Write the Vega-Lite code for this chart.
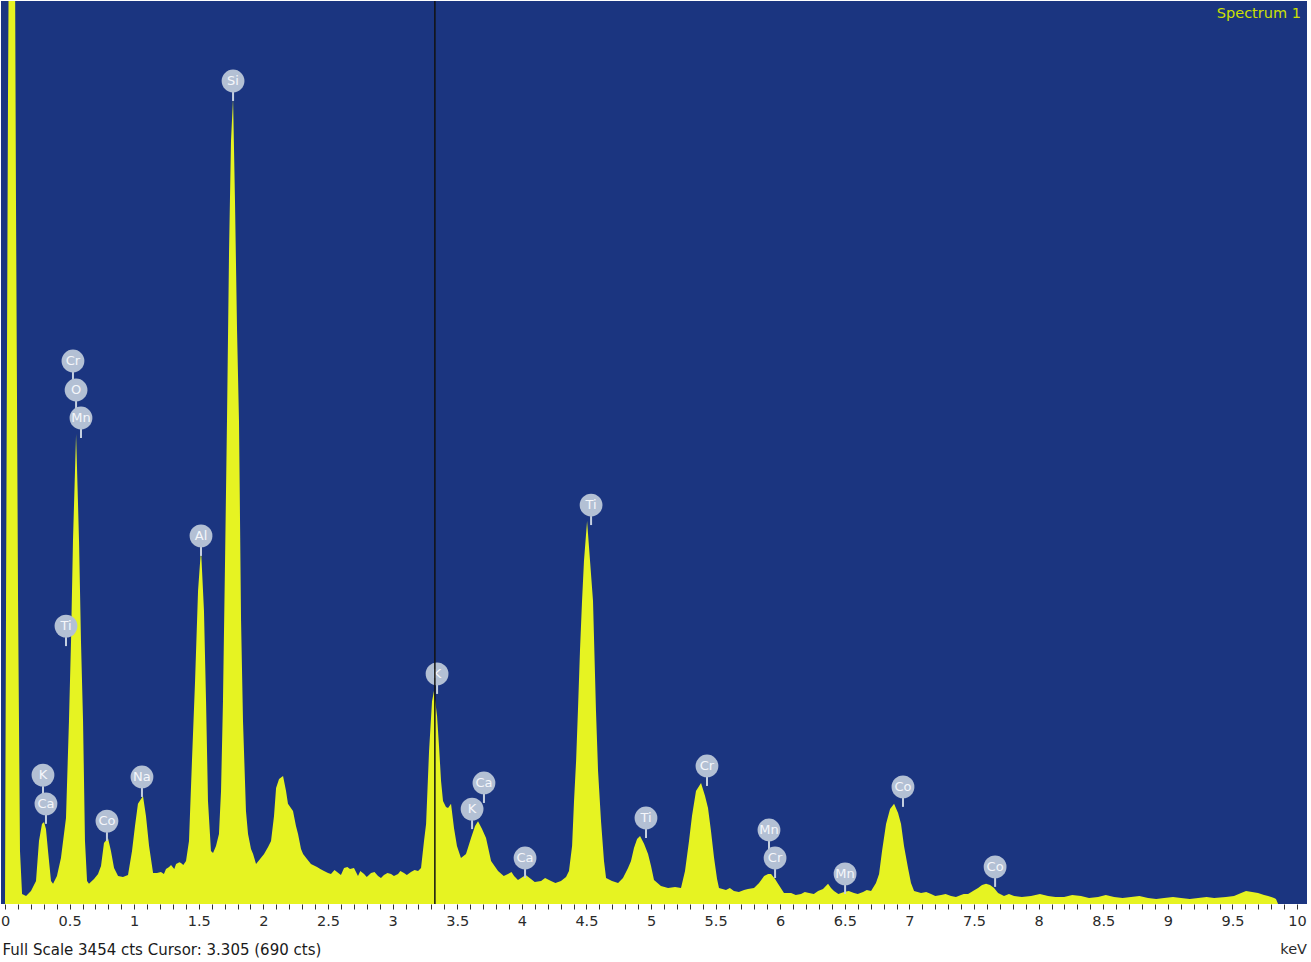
{
  "$schema": "https://vega.github.io/schema/vega-lite/v6.json",
  "width": 1306,
  "height": 903,
  "padding": {"left": 0, "top": 0, "right": 4, "bottom": 2},
  "background": "white",
  "config": {"view": {"fill": "#1b3580", "stroke": null}, "font": "DejaVu Sans"},
  "title": {"text": "keV", "orient": "bottom", "anchor": "end", "offset": -14, "fontSize": 14.5, "fontWeight": "normal", "color": "#2a2a2a", "font": "DejaVu Sans"},
  "datasets": {
    "spectrum": [
      {"e":0.000,"c":0},{"e":0.008,"c":1159},{"e":0.023,"c":3071},{"e":0.039,"c":4500},{"e":0.054,"c":6000},{"e":0.070,"c":4500},{"e":0.085,"c":2689},{"e":0.101,"c":1159},{"e":0.116,"c":203},{"e":0.132,"c":38},{"e":0.163,"c":31},{"e":0.201,"c":50},{"e":0.240,"c":88},{"e":0.263,"c":241},{"e":0.286,"c":306},{"e":0.302,"c":314},{"e":0.317,"c":287},{"e":0.333,"c":203},{"e":0.356,"c":88},{"e":0.372,"c":77},{"e":0.402,"c":107},{"e":0.433,"c":176},{"e":0.472,"c":329},{"e":0.495,"c":700},{"e":0.511,"c":1006},{"e":0.526,"c":1388},{"e":0.550,"c":1798},{"e":0.573,"c":1388},{"e":0.588,"c":1006},{"e":0.604,"c":700},{"e":0.619,"c":241},{"e":0.635,"c":88},{"e":0.650,"c":77},{"e":0.689,"c":96},{"e":0.720,"c":115},{"e":0.743,"c":145},{"e":0.766,"c":233},{"e":0.797,"c":252},{"e":0.820,"c":203},{"e":0.844,"c":138},{"e":0.875,"c":107},{"e":0.913,"c":103},{"e":0.952,"c":111},{"e":0.983,"c":203},{"e":1.006,"c":298},{"e":1.029,"c":383},{"e":1.068,"c":413},{"e":1.091,"c":337},{"e":1.115,"c":222},{"e":1.146,"c":119},{"e":1.176,"c":119},{"e":1.207,"c":122},{"e":1.23,"c":115},{"e":1.246,"c":134},{"e":1.27,"c":142},{"e":1.285,"c":149},{"e":1.31,"c":134},{"e":1.324,"c":153},{"e":1.35,"c":160},{"e":1.362,"c":157},{"e":1.38,"c":149},{"e":1.401,"c":164},{"e":1.424,"c":241},{"e":1.447,"c":547},{"e":1.471,"c":853},{"e":1.494,"c":1197},{"e":1.517,"c":1358},{"e":1.540,"c":1121},{"e":1.556,"c":776},{"e":1.571,"c":394},{"e":1.594,"c":203},{"e":1.610,"c":195},{"e":1.633,"c":222},{"e":1.656,"c":268},{"e":1.672,"c":432},{"e":1.687,"c":776},{"e":1.703,"c":1312},{"e":1.718,"c":1847},{"e":1.734,"c":2498},{"e":1.749,"c":2918},{"e":1.765,"c":3083},{"e":1.780,"c":2689},{"e":1.796,"c":2192},{"e":1.811,"c":1847},{"e":1.827,"c":1083},{"e":1.842,"c":700},{"e":1.865,"c":356},{"e":1.881,"c":268},{"e":1.904,"c":210},{"e":1.920,"c":191},{"e":1.943,"c":153},{"e":1.974,"c":172},{"e":2.005,"c":191},{"e":2.036,"c":218},{"e":2.059,"c":241},{"e":2.082,"c":337},{"e":2.098,"c":444},{"e":2.121,"c":478},{"e":2.152,"c":490},{"e":2.175,"c":432},{"e":2.190,"c":383},{"e":2.229,"c":356},{"e":2.252,"c":298},{"e":2.268,"c":268},{"e":2.291,"c":210},{"e":2.307,"c":191},{"e":2.337,"c":172},{"e":2.368,"c":153},{"e":2.415,"c":142},{"e":2.44,"c":134},{"e":2.469,"c":126},{"e":2.50,"c":119},{"e":2.523,"c":115},{"e":2.55,"c":130},{"e":2.570,"c":122},{"e":2.60,"c":111},{"e":2.624,"c":138},{"e":2.65,"c":142},{"e":2.670,"c":134},{"e":2.701,"c":138},{"e":2.732,"c":107},{"e":2.75,"c":126},{"e":2.779,"c":115},{"e":2.80,"c":103},{"e":2.833,"c":119},{"e":2.86,"c":122},{"e":2.887,"c":107},{"e":2.91,"c":99},{"e":2.933,"c":111},{"e":2.96,"c":119},{"e":2.988,"c":115},{"e":3.01,"c":107},{"e":3.042,"c":115},{"e":3.06,"c":126},{"e":3.088,"c":119},{"e":3.11,"c":111},{"e":3.142,"c":122},{"e":3.17,"c":130},{"e":3.197,"c":126},{"e":3.220,"c":138},{"e":3.243,"c":241},{"e":3.259,"c":306},{"e":3.282,"c":585},{"e":3.305,"c":776},{"e":3.320,"c":815},{"e":3.344,"c":719},{"e":3.359,"c":604},{"e":3.375,"c":470},{"e":3.390,"c":394},{"e":3.413,"c":371},{"e":3.429,"c":367},{"e":3.452,"c":383},{"e":3.475,"c":291},{"e":3.498,"c":222},{"e":3.529,"c":176},{"e":3.568,"c":191},{"e":3.607,"c":252},{"e":3.638,"c":298},{"e":3.661,"c":317},{"e":3.692,"c":287},{"e":3.723,"c":252},{"e":3.762,"c":164},{"e":3.816,"c":126},{"e":3.86,"c":107},{"e":3.893,"c":115},{"e":3.92,"c":122},{"e":3.940,"c":107},{"e":3.97,"c":92},{"e":3.994,"c":99},{"e":4.03,"c":111},{"e":4.071,"c":96},{"e":4.10,"c":84},{"e":4.149,"c":88},{"e":4.18,"c":99},{"e":4.226,"c":88},{"e":4.26,"c":80},{"e":4.303,"c":88},{"e":4.342,"c":103},{"e":4.365,"c":126},{"e":4.389,"c":222},{"e":4.404,"c":394},{"e":4.420,"c":547},{"e":4.435,"c":750},{"e":4.450,"c":968},{"e":4.466,"c":1159},{"e":4.481,"c":1312},{"e":4.505,"c":1465},{"e":4.528,"c":1312},{"e":4.551,"c":1159},{"e":4.574,"c":738},{"e":4.590,"c":509},{"e":4.613,"c":317},{"e":4.636,"c":164},{"e":4.652,"c":99},{"e":4.698,"c":88},{"e":4.745,"c":80},{"e":4.783,"c":99},{"e":4.822,"c":138},{"e":4.845,"c":164},{"e":4.868,"c":214},{"e":4.892,"c":249},{"e":4.915,"c":260},{"e":4.946,"c":230},{"e":4.977,"c":191},{"e":5.000,"c":145},{"e":5.023,"c":92},{"e":5.077,"c":69},{"e":5.132,"c":61},{"e":5.186,"c":65},{"e":5.232,"c":61},{"e":5.263,"c":126},{"e":5.294,"c":241},{"e":5.317,"c":337},{"e":5.348,"c":432},{"e":5.387,"c":463},{"e":5.418,"c":413},{"e":5.441,"c":367},{"e":5.464,"c":279},{"e":5.488,"c":176},{"e":5.511,"c":96},{"e":5.526,"c":61},{"e":5.580,"c":54},{"e":5.61,"c":61},{"e":5.642,"c":50},{"e":5.68,"c":46},{"e":5.720,"c":54},{"e":5.75,"c":57},{"e":5.797,"c":61},{"e":5.836,"c":80},{"e":5.875,"c":107},{"e":5.906,"c":115},{"e":5.929,"c":115},{"e":5.960,"c":96},{"e":5.983,"c":77},{"e":6.029,"c":42},{"e":6.084,"c":42},{"e":6.12,"c":34},{"e":6.161,"c":38},{"e":6.19,"c":46},{"e":6.223,"c":42},{"e":6.26,"c":38},{"e":6.293,"c":50},{"e":6.331,"c":57},{"e":6.370,"c":77},{"e":6.393,"c":61},{"e":6.416,"c":50},{"e":6.45,"c":38},{"e":6.494,"c":46},{"e":6.53,"c":50},{"e":6.571,"c":42},{"e":6.60,"c":38},{"e":6.641,"c":46},{"e":6.67,"c":54},{"e":6.703,"c":50},{"e":6.741,"c":80},{"e":6.765,"c":115},{"e":6.788,"c":203},{"e":6.819,"c":306},{"e":6.850,"c":363},{"e":6.881,"c":383},{"e":6.912,"c":348},{"e":6.935,"c":306},{"e":6.958,"c":222},{"e":6.989,"c":138},{"e":7.012,"c":80},{"e":7.036,"c":50},{"e":7.090,"c":42},{"e":7.13,"c":46},{"e":7.167,"c":38},{"e":7.20,"c":31},{"e":7.245,"c":34},{"e":7.28,"c":38},{"e":7.322,"c":31},{"e":7.36,"c":27},{"e":7.399,"c":34},{"e":7.42,"c":38},{"e":7.454,"c":38},{"e":7.492,"c":50},{"e":7.531,"c":61},{"e":7.562,"c":73},{"e":7.593,"c":77},{"e":7.624,"c":73},{"e":7.655,"c":61},{"e":7.686,"c":42},{"e":7.732,"c":31},{"e":7.77,"c":38},{"e":7.810,"c":31},{"e":7.87,"c":27},{"e":7.941,"c":31},{"e":8.01,"c":38},{"e":8.073,"c":31},{"e":8.13,"c":27},{"e":8.197,"c":27},{"e":8.26,"c":34},{"e":8.328,"c":31},{"e":8.39,"c":23},{"e":8.460,"c":27},{"e":8.52,"c":34},{"e":8.584,"c":27},{"e":8.65,"c":23},{"e":8.715,"c":27},{"e":8.78,"c":31},{"e":8.847,"c":23},{"e":8.91,"c":19},{"e":8.971,"c":23},{"e":9.04,"c":27},{"e":9.102,"c":23},{"e":9.17,"c":19},{"e":9.234,"c":23},{"e":9.30,"c":27},{"e":9.358,"c":23},{"e":9.450,"c":27},{"e":9.512,"c":31},{"e":9.567,"c":42},{"e":9.605,"c":50},{"e":9.652,"c":46},{"e":9.698,"c":42},{"e":9.745,"c":34},{"e":9.776,"c":31},{"e":9.822,"c":23},{"e":9.837,"c":19},{"e":9.853,"c":0},{"e":10.031,"c":0}
    ],
    "peaks": [
      {"e":0.526,"c":2077,"t":"Cr"},{"e":0.550,"c":1966,"t":"O"},{"e":0.588,"c":1859,"t":"Mn"},{"e":0.472,"c":1063,"t":"Ti"},{"e":0.294,"c":493,"t":"K"},{"e":0.317,"c":383,"t":"Ca"},{"e":0.789,"c":317,"t":"Co"},{"e":1.060,"c":486,"t":"Na"},{"e":1.517,"c":1408,"t":"Al"},{"e":1.765,"c":3148,"t":"Si"},{"e":3.344,"c":880,"t":"K"},{"e":3.707,"c":463,"t":"Ca"},{"e":3.615,"c":363,"t":"K"},{"e":4.025,"c":176,"t":"Ca"},{"e":4.536,"c":1526,"t":"Ti"},{"e":4.961,"c":329,"t":"Ti"},{"e":5.433,"c":528,"t":"Cr"},{"e":5.913,"c":283,"t":"Mn"},{"e":5.960,"c":176,"t":"Cr"},{"e":6.502,"c":115,"t":"Mn"},{"e":6.950,"c":448,"t":"Co"},{"e":7.663,"c":142,"t":"Co"}
    ],
    "cursor": [{"e":3.327}],
    "tag": [{"e":10.03,"c":3404,"t":"Spectrum 1"}]
  },
  "encoding": {
    "x": {"field": "e", "type": "quantitative",
      "scale": {"domain": [-0.031, 10.077], "nice": false, "zero": false},
      "axis": {
        "values": [0,0.1,0.2,0.3,0.4,0.5,0.6,0.7,0.8,0.9,1,1.1,1.2,1.3,1.4,1.5,1.6,1.7,1.8,1.9,2,2.1,2.2,2.3,2.4,2.5,2.6,2.7,2.8,2.9,3,3.1,3.2,3.3,3.4,3.5,3.6,3.7,3.8,3.9,4,4.1,4.2,4.3,4.4,4.5,4.6,4.7,4.8,4.9,5,5.1,5.2,5.3,5.4,5.5,5.6,5.7,5.8,5.9,6,6.1,6.2,6.3,6.4,6.5,6.6,6.7,6.8,6.9,7,7.1,7.2,7.3,7.4,7.5,7.6,7.7,7.8,7.9,8,8.1,8.2,8.3,8.4,8.5,8.6,8.7,8.8,8.9,9,9.1,9.2,9.3,9.4,9.5,9.6,9.7,9.8,9.9,10],
        "labelExpr": "(round(datum.value*10) % 5 == 0) ? '' + datum.value : ''",
        "grid": false, "domain": false,
        "tickColor": "#333", "tickSize": 5, "tickWidth": 1,
        "labelFontSize": 14.5, "labelColor": "#2a2a2a", "labelFont": "DejaVu Sans",
        "labelPadding": 5, "labelOverlap": false, "labelFlush": false, "labelBound": false,
        "title": "Full Scale 3454 cts Cursor: 3.305  (690 cts)",
        "titleFont": "DejaVu Sans", "titleFontSize": 15, "titleFontWeight": "normal", "titleColor": "#1a1a1a",
        "titleAlign": "left", "titleAnchor": "start", "titleX": 1, "titleY": 45, "titleBaseline": "middle"
      }
    }
  },
  "layer": [
    {
      "data": {"name": "spectrum"},
      "mark": {"type": "area", "color": "#e6f322", "clip": true, "interpolate": "linear"},
      "encoding": {
        "y": {"field": "c", "type": "quantitative", "scale": {"domain": [0, 3454], "nice": false}, "axis": null}
      }
    },
    {
      "data": {"name": "peaks"},
      "mark": {"type": "rule", "color": "#c5d0e0", "strokeWidth": 2, "yOffset": 11, "y2Offset": 20},
      "encoding": {
        "y": {"field": "c", "type": "quantitative"},
        "y2": {"field": "c"}
      }
    },
    {
      "data": {"name": "peaks"},
      "mark": {"type": "circle", "size": 520, "color": "#b3c0d4", "opacity": 1},
      "encoding": {
        "y": {"field": "c", "type": "quantitative"}
      }
    },
    {
      "data": {"name": "peaks"},
      "mark": {"type": "text", "color": "#f5f7fb", "fontSize": 13, "fontWeight": "normal", "baseline": "middle", "align": "center", "font": "DejaVu Sans"},
      "encoding": {
        "y": {"field": "c", "type": "quantitative"},
        "text": {"field": "t"}
      }
    },
    {
      "data": {"name": "cursor"},
      "mark": {"type": "rule", "color": "#111111", "strokeWidth": 1.5}
    },
    {
      "data": {"name": "tag"},
      "mark": {"type": "text", "color": "#cde000", "fontSize": 14.5, "align": "right", "baseline": "middle", "font": "DejaVu Sans"},
      "encoding": {
        "y": {"field": "c", "type": "quantitative"},
        "text": {"field": "t"}
      }
    }
  ]
}
